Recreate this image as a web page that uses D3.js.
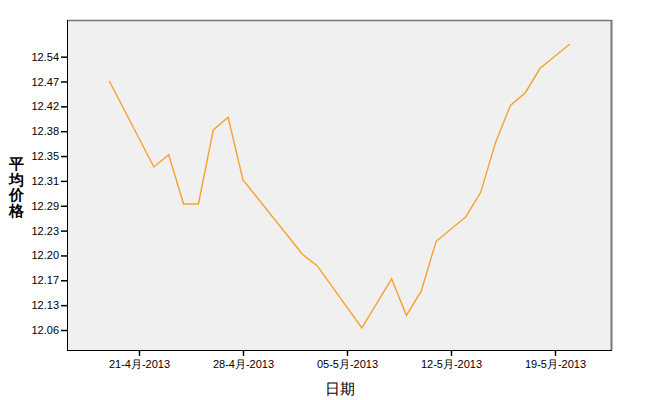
<!DOCTYPE html>
<html><head><meta charset="utf-8">
<script src="https://cdn.jsdelivr.net/npm/d3@7/dist/d3.min.js"></script>
<style>body{margin:0;background:#fff}svg text{font-family:"Liberation Sans",Arial,sans-serif}</style>
</head><body><svg id="c" width="651" height="400"></svg>
<script>
const dates = ["2013-04-19","2013-04-22","2013-04-23","2013-04-24","2013-04-25","2013-04-26","2013-04-27","2013-04-28","2013-05-02","2013-05-03","2013-05-06","2013-05-08","2013-05-09","2013-05-10","2013-05-11","2013-05-13","2013-05-14","2013-05-15","2013-05-16","2013-05-17","2013-05-18","2013-05-20"];
const prices = [12.4714,12.3324,12.3515,12.2914,12.2914,12.382,12.4024,12.3116,12.2015,12.1874,12.0656,12.1718,12.1013,12.1528,12.2171,12.2636,12.3008,12.3665,12.422,12.4475,12.5071,12.5757];
const yTicks = [12.06,12.13,12.17,12.20,12.23,12.29,12.31,12.35,12.38,12.42,12.47,12.54];
const xTickDates = ["2013-04-21","2013-04-28","2013-05-05","2013-05-12","2013-05-19"];
const xTickLabels = ["21-4月-2013","28-4月-2013","05-5月-2013","12-5月-2013","19-5月-2013"];

const svg = d3.select("#c");
const L=67, T=20, R=611, B=350;
const parse = d3.utcParse("%Y-%m-%d");
const x = d3.scaleUtc().domain([parse("2013-04-21"), parse("2013-05-19")]).range([139, 555]);
const yStep = 24.85;
const y = d3.scaleLinear().domain(yTicks).range(yTicks.map((d,i)=>330 - i*yStep));

svg.append("rect").attr("x",L).attr("y",T).attr("width",R-L).attr("height",B-T).attr("fill","#f0f0f0");
svg.append("line").attr("x1",L).attr("x2",R+1).attr("y1",T+0.5).attr("y2",T+0.5).attr("stroke","#777").attr("stroke-width",1.5);
svg.append("line").attr("x1",R+0.5).attr("x2",R+0.5).attr("y1",T).attr("y2",B).attr("stroke","#777").attr("stroke-width",2);

const line = d3.line().x((d,i)=>x(parse(dates[i]))).y(d=>y(d));
svg.append("path").datum(prices).attr("d",line).attr("fill","none").attr("stroke","#f7a02e").attr("stroke-width",1.4);

const yAxis = d3.axisLeft(y).tickValues(yTicks).tickFormat(d3.format(".2f")).tickSize(6).tickPadding(2);
const gy = svg.append("g").attr("transform",`translate(${L},0)`).call(yAxis);
gy.select(".domain").attr("d",`M0.5,${T}V${B}`).attr("stroke","#000");
gy.selectAll(".tick line").attr("stroke","#000").attr("stroke-width",1.5);
gy.selectAll("text").attr("font-size","11px").attr("fill","#000");

const xAxis = d3.axisBottom(x).tickValues(xTickDates.map(parse)).tickFormat((d,i)=>xTickLabels[i]).tickSize(6).tickPadding(4);
const gx = svg.append("g").attr("transform",`translate(0,${B})`).call(xAxis);
gx.select(".domain").attr("d",`M${L},0.5H${R+1}`).attr("stroke","#000");
gx.selectAll(".tick line").attr("stroke","#000").attr("stroke-width",1.5);
gx.selectAll("text").attr("font-size","11px").attr("fill","#000");

svg.append("text").attr("x",340).attr("y",394).attr("text-anchor","middle").attr("font-size","15px").attr("fill","#000").text("日期");
const yt = "平均价格".split("");
yt.forEach((c,i)=>svg.append("text").attr("x",16).attr("y",169+i*15.5).attr("text-anchor","middle").attr("font-size","15px").attr("font-weight","bold").attr("fill","#000").text(c));
</script></body></html>
